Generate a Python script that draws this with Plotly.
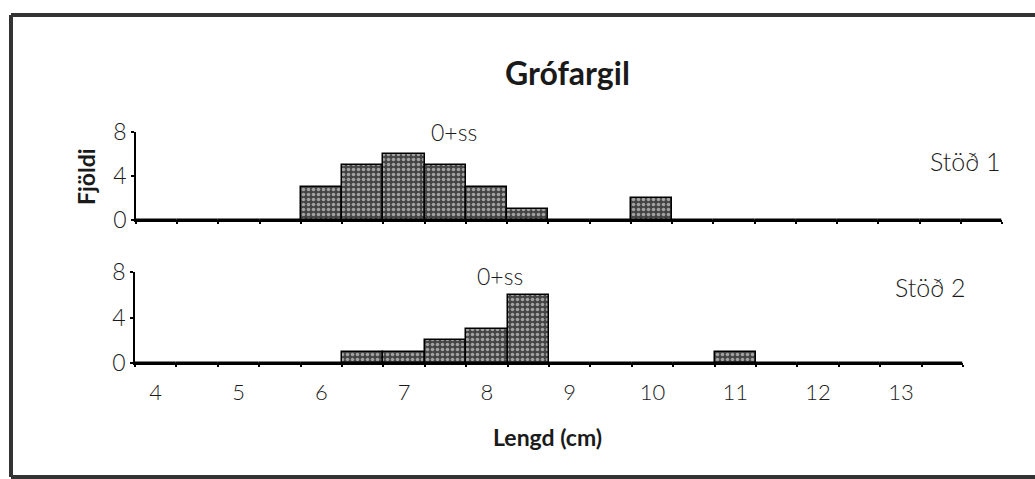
import plotly.graph_objects as go

# Length classes (cm) and fish counts per station
lengd_1 = [4, 4.5, 5, 5.5, 6, 6.5, 7, 7.5, 8, 8.5, 9, 9.5, 10, 10.5, 11, 11.5, 12, 12.5, 13, 13.5, 14]
stod_1 = [0, 0, 0, 0, 3, 5, 6, 5, 3, 1, 0, 0, 2, 0, 0, 0, 0, 0, 0, 0, 0]

lengd_2 = [4, 4.5, 5, 5.5, 6, 6.5, 7, 7.5, 8, 8.5, 9, 9.5, 10, 10.5, 11, 11.5, 12, 12.5, 13, 13.5]
stod_2 = [0, 0, 0, 0, 0, 1, 1, 2, 3, 6, 0, 0, 0, 0, 1, 0, 0, 0, 0, 0]

x_labels = [4, 5, 6, 7, 8, 9, 10, 11, 12, 13]
y_ticks = [0, 4, 8]

W, H = 1035, 479
FONT = "Lato"


def px_x(p):
    return p / W


def px_y(p):
    return 1 - p / H


bar_style = dict(
    color="#444",
    line=dict(color="black", width=1.5),
    pattern=dict(shape=".", fgcolor="white", bgcolor="#444", size=5, solidity=0.4),
)

fig = go.Figure()

fig.add_trace(go.Bar(x=lengd_1, y=stod_1, width=0.5, marker=bar_style,
                     xaxis="x", yaxis="y", showlegend=False))
fig.add_trace(go.Bar(x=lengd_2, y=stod_2, width=0.5, marker=bar_style,
                     xaxis="x2", yaxis="y2", showlegend=False))

xaxis_common = dict(
    showgrid=False, zeroline=False, automargin=False,
    showline=True, linecolor="black", linewidth=1.5,
    ticks="", tickvals=x_labels, ticklabelstandoff=9,
    minor=dict(tick0=3.75, dtick=0.5, ticks="outside", ticklen=2,
               tickcolor="black", tickwidth=1.5, showgrid=False),
    tickfont=dict(family=FONT, size=22, color="#1a1a1a", weight=300),
)
yaxis_common = dict(
    showgrid=False, zeroline=False, automargin=False,
    showline=True, linecolor="black", linewidth=1.5,
    range=[0, 8], tickvals=y_ticks,
    ticks="outside", ticklen=3, tickcolor="black", tickwidth=1.5,
    tickfont=dict(family=FONT, size=23, color="#1a1a1a", weight=300),
)

fig.update_layout(
    width=W, height=H, autosize=False,
    margin=dict(l=0, r=0, t=0, b=0, pad=0),
    paper_bgcolor="white", plot_bgcolor="rgba(0,0,0,0)",
    bargap=0,
    xaxis=dict(xaxis_common, domain=[px_x(136), px_x(1002)], range=[3.75, 14.25],
               anchor="y", showticklabels=False),
    yaxis=dict(yaxis_common, domain=[px_y(220), px_y(132)], anchor="x"),
    xaxis2=dict(xaxis_common, domain=[px_x(135), px_x(963)], range=[3.75, 13.75],
                anchor="y2", showticklabels=True),
    yaxis2=dict(yaxis_common, domain=[px_y(363), px_y(272)], anchor="x2"),
)

notes = [
    ("<b>Grófargil</b>", 567, 72, 32, 0, 700),
    ("<b>Fjöldi</b>", 86, 177, 23, -90, 700),
    ("<b>Lengd (cm)</b>", 547, 437, 23, 0, 700),
    ("0+ss", 454, 132, 23, 0, 300),
    ("0+ss", 500, 276, 23, 0, 300),
    ("Stöð 1", 965, 161, 25, 0, 300),
    ("Stöð 2", 930, 287, 25, 0, 300),
]
for text, x, y, size, angle, weight in notes:
    fig.add_annotation(text=text, x=px_x(x), y=px_y(y), xref="paper", yref="paper",
                       xanchor="center", yanchor="middle",
                       showarrow=False, textangle=angle,
                       font=dict(family=FONT, size=size, color="#1a1a1a", weight=weight))

# page frame from the scanned report
frame = dict(type="line", xref="paper", yref="paper", line=dict(color="#333", width=4))
fig.add_shape(frame, x0=px_x(11), x1=1, y0=px_y(15), y1=px_y(15))
fig.add_shape(frame, x0=px_x(11), x1=px_x(11), y0=px_y(15), y1=px_y(477))
fig.add_shape(frame, x0=px_x(11), x1=1, y0=px_y(477), y1=px_y(477))

fig.write_html("out.html", config={"displayModeBar": False},
               post_script="document.body.style.margin = '0';")
